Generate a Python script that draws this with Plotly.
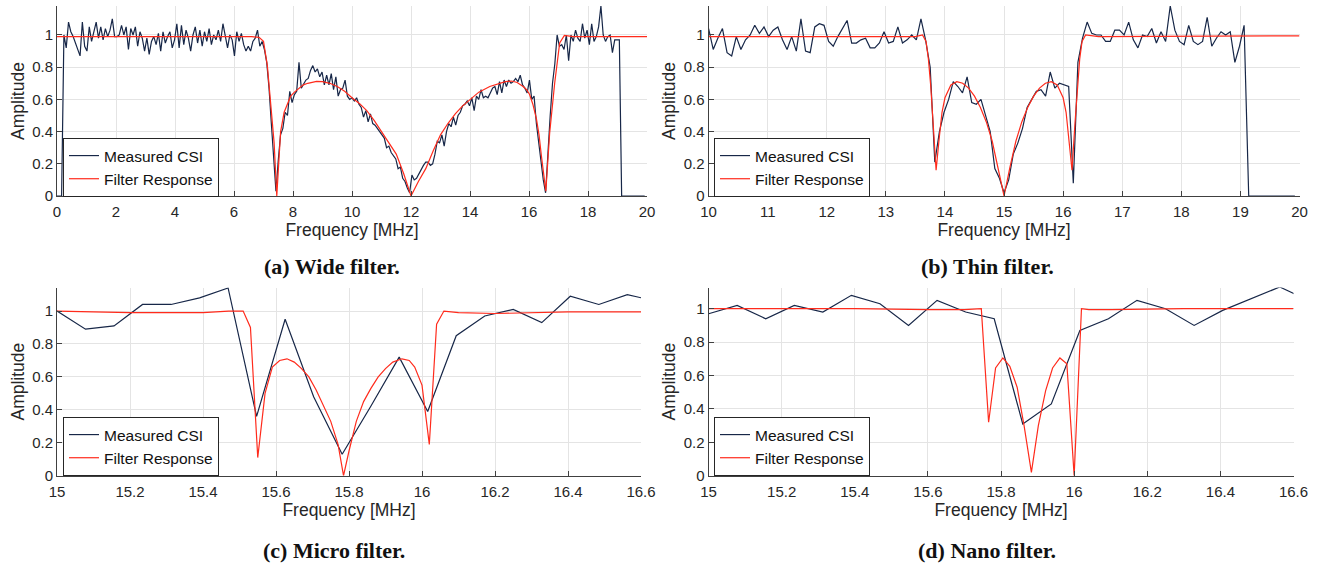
import numpy as np
import plotly.graph_objects as go

W, H = 1319, 565
STEP = 20.0 / 256  # CSI subcarrier spacing in MHz

# ---------------- (a) Wide filter ----------------
csi_a = [
    0, 0, 0, 1.00, 0.92, 1.08, 1.02, 0.99, 0.95, 0.90, 0.87, 1.08, 0.93, 0.90, 1.05, 0.96,
    1.02, 1.08, 0.98, 1.05, 0.97, 1.04, 0.99, 1.03, 1.10, 0.99, 0.99, 1.00, 1.06, 1.00, 1.05, 0.91,
    1.04, 1.00, 1.05, 0.93, 1.02, 0.98, 0.90, 0.98, 0.88, 0.96, 0.99, 0.94, 1.01, 0.90, 1.02, 0.95,
    0.99, 1.02, 0.92, 0.97, 1.07, 0.92, 1.06, 0.94, 1.03, 0.98, 0.90, 1.00, 1.05, 0.95, 1.03, 0.93,
    1.02, 0.96, 1.04, 0.94, 1.00, 0.97, 1.03, 0.96, 1.07, 1.00, 0.92, 1.00, 0.97, 0.87, 1.02, 0.96,
    1.01, 0.94, 0.90, 0.93, 0.90, 0.96, 0.98, 1.03, 0.93, 0.96, 0.91, 0.83, 0.67, 0.45, 0.25, 0.03,
    0.22, 0.38, 0.42, 0.52, 0.50, 0.65, 0.58, 0.63, 0.65, 0.83, 0.67, 0.70, 0.72, 0.73, 0.78, 0.81,
    0.77, 0.79, 0.74, 0.77, 0.69, 0.75, 0.69, 0.76, 0.66, 0.74, 0.62, 0.66, 0.67, 0.72, 0.62, 0.60,
    0.61, 0.59, 0.61, 0.57, 0.55, 0.49, 0.53, 0.46, 0.51, 0.45, 0.44, 0.42, 0.40, 0.38, 0.36, 0.30,
    0.31, 0.27, 0.25, 0.23, 0.17, 0.18, 0.11, 0.09, 0.05, 0.02, 0.13, 0.10, 0.11, 0.14, 0.16, 0.19,
    0.21, 0.21, 0.19, 0.20, 0.26, 0.34, 0.33, 0.38, 0.31, 0.40, 0.45, 0.43, 0.49, 0.44, 0.50, 0.52,
    0.56, 0.57, 0.59, 0.56, 0.61, 0.53, 0.62, 0.60, 0.66, 0.61, 0.62, 0.61, 0.64, 0.67, 0.68, 0.63,
    0.71, 0.64, 0.72, 0.68, 0.72, 0.70, 0.71, 0.73, 0.71, 0.75, 0.69, 0.67, 0.64, 0.72, 0.60, 0.62,
    0.45, 0.33, 0.20, 0.10, 0.02, 0.28, 0.50, 0.70, 0.82, 1.00, 0.93, 0.94, 0.91, 1.00, 0.84, 1.00,
    0.96, 1.03, 0.98, 0.96, 1.07, 0.98, 1.03, 0.94, 1.07, 0.96, 0.99, 1.05, 1.18, 1.00, 0.96, 0.99,
    1.00, 0.89, 0.97, 0.97, 0.97, 0, 0, 0, 0, 0, 0, 0, 0, 0, 0, 0,
]
filt_a_x = [0, 6.6, 6.85, 7.0, 7.13, 7.24, 7.36, 7.45, 7.5, 7.58, 7.7, 7.8, 7.92, 8.05, 8.2,
            8.35, 8.5, 8.65, 8.8, 9.0, 9.25, 9.5, 9.75, 10.0, 10.25, 10.5, 10.75, 11.0, 11.25,
            11.5, 11.75, 12.0, 12.25, 12.5, 12.75, 13.0, 13.25, 13.5, 13.75, 14.0, 14.3, 14.67,
            15.0, 15.2, 15.41, 15.6, 15.8, 15.92, 16.02, 16.13, 16.25, 16.34, 16.42, 16.5, 16.57,
            16.7, 16.87, 17.04, 17.2, 17.5, 20.0]
filt_a_y = [0.99, 0.99, 0.985, 0.96, 0.81, 0.60, 0.33, 0.0, 0.19, 0.40, 0.52, 0.57, 0.62, 0.645, 0.67,
            0.69, 0.70, 0.707, 0.712, 0.71, 0.70, 0.68, 0.65, 0.61, 0.575, 0.53, 0.47, 0.40, 0.33,
            0.26, 0.14, 0.0, 0.09, 0.17, 0.28, 0.38, 0.45, 0.51, 0.56, 0.60, 0.645, 0.68,
            0.70, 0.71, 0.714, 0.705, 0.68, 0.66, 0.63, 0.57, 0.48, 0.38, 0.25, 0.13, 0.03,
            0.39, 0.70, 0.95, 0.997, 0.99, 0.99]

# ---------------- (b) Thin filter ----------------
csi_b_start = 10.0
csi_b = [
    1.04, 0.91, 0.98, 1.04, 0.89, 0.87, 0.99, 0.91, 0.97, 1.00, 1.06, 1.01, 1.05, 0.99, 1.03, 1.05,
    0.97, 0.91, 0.99, 0.90, 1.10, 0.90, 0.89, 1.05, 1.07, 1.06, 0.96, 0.93, 0.99, 1.04, 1.09, 0.95,
    0.95, 0.97, 0.98, 0.92, 0.92, 0.95, 1.02, 0.95, 0.96, 1.05, 0.95, 0.97, 1.00, 0.97, 1.10, 0.97,
    0.80, 0.21, 0.40, 0.52, 0.60, 0.71, 0.68, 0.64, 0.74, 0.58, 0.57, 0.60, 0.50, 0.40, 0.17, 0.11,
    0.02, 0.10, 0.26, 0.33, 0.42, 0.55, 0.60, 0.65, 0.66, 0.62, 0.77, 0.67, 0.70, 0.69, 0.68, 0.08,
    0.83, 0.98, 1.08, 1.01, 1.00, 1.00, 0.96, 0.96, 1.03, 1.03, 1.00, 1.08, 0.97, 0.92, 1.00, 0.99,
    1.04, 0.95, 1.02, 0.96, 1.18, 1.03, 0.96, 0.94, 1.06, 0.96, 0.94, 0.96, 1.11, 0.93, 0.98, 1.02,
    1.00, 1.02, 0.83, 0.93, 1.06, 0, 0, 0, 0, 0, 0, 0, 0, 0, 0, 0,
]
filt_b_x = [10.0, 13.5, 13.62, 13.68, 13.72, 13.76, 13.8, 13.85, 13.9, 13.95, 14.0, 14.1, 14.2, 14.3,
            14.4, 14.5, 14.6, 14.7, 14.8, 14.9, 15.0, 15.1, 15.2, 15.3, 15.4, 15.5, 15.6, 15.7,
            15.8, 15.9, 16.0, 16.05, 16.1, 16.15, 16.2, 16.24, 16.28, 16.32, 16.38, 16.6, 20.0]
filt_b_y = [0.99, 0.99, 1.0, 0.96, 0.85, 0.68, 0.45, 0.16, 0.35, 0.52, 0.61, 0.69, 0.71, 0.70,
            0.67, 0.62, 0.55, 0.46, 0.34, 0.18, 0.0, 0.18, 0.34, 0.46, 0.55, 0.62, 0.67, 0.70,
            0.71, 0.69, 0.61, 0.52, 0.35, 0.16, 0.45, 0.68, 0.85, 0.96, 1.0, 0.99, 0.995]

# ---------------- (c) Micro filter ----------------
csi_c_start = 15.0
csi_c = [1.00, 0.89, 0.91, 1.04, 1.04, 1.08, 1.14, 0.36, 0.95, 0.48, 0.13, 0.42, 0.72, 0.39,
         0.85, 0.97, 1.01, 0.93, 1.09, 1.04, 1.10, 1.06]
filt_c_x = [15.0, 15.2, 15.4, 15.47, 15.51, 15.53, 15.55, 15.57, 15.59, 15.61, 15.63, 15.65, 15.67,
            15.69, 15.71, 15.73, 15.75, 15.77, 15.785, 15.80, 15.82, 15.84, 15.86, 15.88, 15.90,
            15.92, 15.945, 15.965, 15.98, 16.00, 16.02, 16.04, 16.06, 16.1, 16.2, 16.4, 16.6]
filt_c_y = [1.0, 0.99, 0.99, 1.0, 1.0, 0.90, 0.11, 0.50, 0.66, 0.70, 0.71, 0.69, 0.65,
            0.60, 0.52, 0.43, 0.33, 0.19, 0.0, 0.15, 0.33, 0.45, 0.53, 0.60, 0.65,
            0.69, 0.71, 0.70, 0.66, 0.55, 0.19, 0.92, 1.0, 0.99, 0.985, 0.995, 0.995]

# ---------------- (d) Nano filter ----------------
csi_d_start = 15.0
csi_d = [0.97, 1.02, 0.94, 1.02, 0.98, 1.08, 1.03, 0.90, 1.05, 0.98, 0.94, 0.31, 0.43, 0.87,
         0.94, 1.05, 1.00, 0.90, 0.99, 1.06, 1.13, 1.05]
filt_d_x = [15.0, 15.2, 15.4, 15.6, 15.7, 15.746, 15.766, 15.785, 15.805, 15.824, 15.844, 15.863,
            15.883, 15.902, 15.922, 15.941, 15.961, 15.98, 16.0, 16.02, 16.04, 16.1, 16.3, 16.6]
filt_d_y = [1.0, 1.0, 1.0, 0.995, 0.995, 1.0, 0.32, 0.645, 0.705, 0.655, 0.53, 0.30,
            0.02, 0.30, 0.51, 0.645, 0.705, 0.67, 0.0, 1.0, 0.995, 0.995, 1.0, 1.0]

captions = ["(a) Wide filter.", "(b) Thin filter.", "(c) Micro filter.", "(d) Nano filter."]
y_ticks = [0, 0.2, 0.4, 0.6, 0.8, 1]
y_ticktext = ["0", "0.2", "0.4", "0.6", "0.8", "1"]
x_ticks_a = list(range(0, 21, 2))
x_ticks_b = list(range(10, 21))
x_ticks_cd = [15, 15.2, 15.4, 15.6, 15.8, 16, 16.2, 16.4, 16.6]

BLUE = "#172748"
RED = "#ff2b1c"
AXC = "#404040"
TXT = "#262626"
FONT = "Liberation Sans"


def px_x(p):
    return p / W


def px_y(p):
    return 1 - p / H


panels = [
    dict(x=np.arange(len(csi_a)) * STEP, y=csi_a, fx=filt_a_x, fy=filt_a_y,
         xd=[px_x(57), px_x(647)], yd=[px_y(196), px_y(6)], xr=[0, 20], yr=[0, 1.18],
         xt=x_ticks_a, leg=(63, 197), cap=(332, 266)),
    dict(x=csi_b_start + np.arange(len(csi_b)) * STEP, y=csi_b, fx=filt_b_x, fy=filt_b_y,
         xd=[px_x(708.6), px_x(1299.5)], yd=[px_y(196), px_y(6)], xr=[10, 20], yr=[0, 1.18],
         xt=x_ticks_b, leg=(714, 197), cap=(987, 266)),
    dict(x=csi_c_start + np.arange(len(csi_c)) * STEP, y=csi_c, fx=filt_c_x, fy=filt_c_y,
         xd=[px_x(57), px_x(641)], yd=[px_y(475.7), px_y(287.5)], xr=[15, 16.6], yr=[0, 1.143],
         xt=x_ticks_cd, leg=(63, 476), cap=(334, 550)),
    dict(x=csi_d_start + np.arange(len(csi_d)) * STEP, y=csi_d, fx=filt_d_x, fy=filt_d_y,
         xd=[px_x(708.6), px_x(1293.5)], yd=[px_y(475.7), px_y(287.5)], xr=[15, 16.6], yr=[0, 1.127],
         xt=x_ticks_cd, leg=(714, 476), cap=(987, 550)),
]

fig = go.Figure()
layout = dict(width=W, height=H, margin=dict(l=0, r=0, t=0, b=0),
              paper_bgcolor="white", plot_bgcolor="white", hovermode=False,
              font=dict(family=FONT, color=TXT), annotations=[])

for k, p in enumerate(panels):
    n = "" if k == 0 else str(k + 1)
    legname = "legend" + n
    fig.add_trace(go.Scatter(x=p["x"], y=p["y"], mode="lines", name="Measured CSI",
                             line=dict(color=BLUE, width=1.2), xaxis="x" + n, yaxis="y" + n,
                             legend=legname, cliponaxis=True))
    fig.add_trace(go.Scatter(x=p["fx"], y=p["fy"], mode="lines", name="Filter Response",
                             line=dict(color=RED, width=1.2), xaxis="x" + n, yaxis="y" + n,
                             legend=legname, cliponaxis=True))
    common = dict(showgrid=True, gridcolor="#e4e4e4", gridwidth=1, showline=True,
                  linecolor=AXC, linewidth=1, ticks="inside", ticklen=5, tickcolor=AXC,
                  tickfont=dict(size=15, color=TXT, family=FONT), zeroline=False,
                  automargin=False, mirror=False, fixedrange=True)
    layout["xaxis" + n] = dict(common, domain=p["xd"], range=p["xr"], tickvals=p["xt"],
                               ticktext=[f"{v:g}" for v in p["xt"]], anchor="y" + n,
                               ticklabelstandoff=2,
                               title=dict(text="Frequency [MHz]", standoff=4,
                                          font=dict(size=17.5, color=TXT, family=FONT)))
    layout["yaxis" + n] = dict(common, domain=p["yd"], range=p["yr"], tickvals=y_ticks,
                               ticktext=y_ticktext, anchor="x" + n,
                               title=dict(text="Amplitude", standoff=3,
                                          font=dict(size=17.5, color=TXT, family=FONT)))
    layout[legname] = dict(x=px_x(p["leg"][0]), y=px_y(p["leg"][1]), xanchor="left",
                           yanchor="bottom", bgcolor="white", bordercolor="#262626",
                           borderwidth=1, font=dict(size=15.5, color="#111111", family=FONT),
                           itemwidth=30, tracegroupgap=0, traceorder="normal")
    layout["annotations"].append(dict(text=captions[k], xref="paper", yref="paper",
                                      x=px_x(p["cap"][0]), y=px_y(p["cap"][1]),
                                      xanchor="center", yanchor="middle", showarrow=False,
                                      font=dict(family="Liberation Serif", size=22,
                                                color="#111111", weight="bold")))

fig.update_layout(**layout)
fig.write_html("out.html", config={"displayModeBar": False, "staticPlot": True},
               post_script="document.body.style.margin='0px';")
